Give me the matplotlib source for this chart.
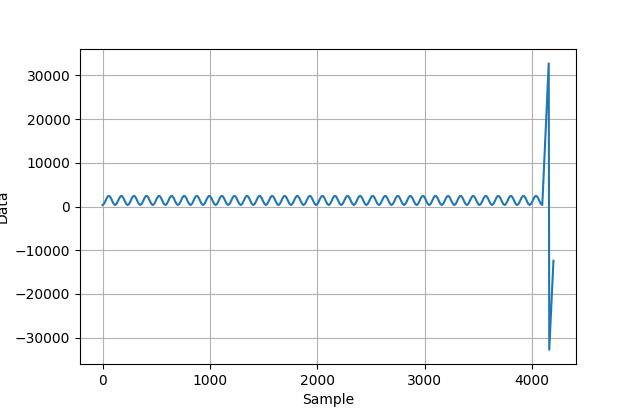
import numpy as np
import matplotlib
matplotlib.use("Agg")
import matplotlib.pyplot as plt

# one period of the wave (13 samples apart, 117 per period)
cycle = [350, 600, 1220, 1930, 2390, 2390, 1930, 1220, 600]
n_cycles = 35
step = 13

# the few points after the wave
tail_x = [4155, 4160, 4199]
tail_y = [32767, -32768, -12400]

wave = np.tile(cycle, n_cycles).tolist() + [cycle[0]]
wave_x = (np.arange(len(wave)) * step).tolist()

x = wave_x + tail_x
y = wave + tail_y

fig = plt.figure(figsize=(6.4, 4.09), dpi=100)
plt.plot(x, y)
plt.xlabel("Sample")
plt.ylabel("Data")
plt.grid(True)
plt.savefig("out.png")
